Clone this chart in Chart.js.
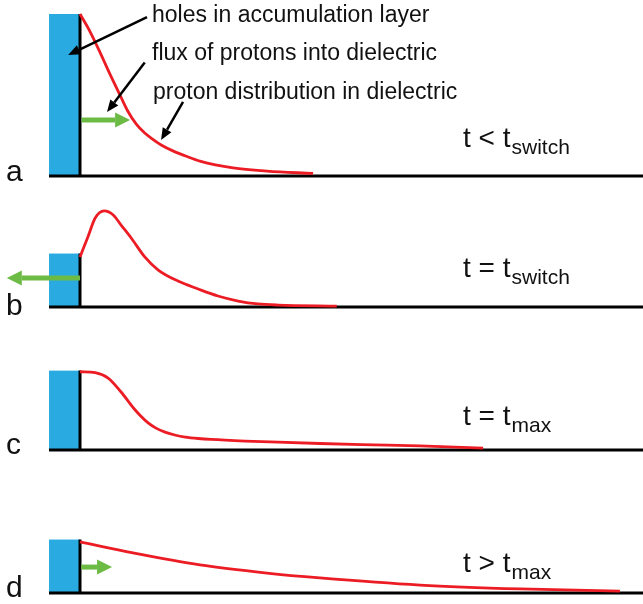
<!DOCTYPE html>
<html>
<head>
<meta charset="utf-8">
<script src="https://cdn.jsdelivr.net/npm/chart.js@4"></script>
<style>
  body { margin: 0; background: #fff; }
  #wrap { position: relative; width: 643px; height: 604px; }
  #wrap canvas { position: absolute; left: 0; }
</style>
</head>
<body>
<div id="wrap">
  <canvas id="pa" width="643" height="190" style="top:0px"></canvas>
  <canvas id="pb" width="643" height="130" style="top:190px"></canvas>
  <canvas id="pc" width="643" height="145" style="top:320px"></canvas>
  <canvas id="pd" width="643" height="139" style="top:465px"></canvas>
</div>
<script>
// depth into dielectric (a.u., 0 = interface) and proton concentration (a.u.)
const depthA = [0, 1.8, 3.6, 5.3, 7.1, 8.5, 10, 11.5, 13, 14.5, 16.5, 19, 21.3, 27.2, 33.2, 41.4];
const protonA = [1.0, 0.89, 0.76, 0.63, 0.50, 0.40, 0.32, 0.265, 0.225, 0.19, 0.155, 0.12, 0.092, 0.05, 0.03, 0.016];

const depthB = [0, 1.4, 2.7, 4.3, 5.9, 7.3, 9.1, 11.5, 13.9, 17.4, 21.0, 24.5, 28.1, 31.6, 35.2, 45.6];
const protonB = [0.309, 0.432, 0.549, 0.593, 0.568, 0.506, 0.426, 0.309, 0.228, 0.160, 0.111, 0.068, 0.037, 0.019, 0.012, 0.006];

const depthC = [0, 2.7, 5.0, 7.3, 9.8, 12.1, 13.5, 15.1, 17, 18.7, 21, 23.3, 29.3, 35.2, 42.6, 50, 60.4, 71.6];
const protonC = [0.483, 0.477, 0.444, 0.358, 0.247, 0.167, 0.135, 0.110, 0.091, 0.080, 0.071, 0.065, 0.055, 0.048, 0.040, 0.033, 0.025, 0.012];

const depthD = [0, 9.4, 21.3, 33.2, 42.6, 60.4, 78.2, 95.9];
const protonD = [0.315, 0.247, 0.173, 0.123, 0.093, 0.049, 0.025, 0.012];

// holes in the accumulation layer (height of blue block)
const holeLevels = [1.0, 0.33, 0.49, 0.33];
const layerThickness = 5.5;

// flux of protons: [fromX, toX, level] per panel, null = none
const fluxArrows = [[0.3, 8.9, 0.346], [0, -13, 0.179], null, [0.2, 5.7, 0.16]];

const panelLetters = ['a', 'b', 'c', 'd'];
const timeLabels = [['t < t', 'switch'], ['t = t', 'switch'], ['t = t', 'max'], ['t > t', 'max']];

const RED = '#ec1c24';
const BLUE = '#29abe2';
const GREEN = '#6cbb45';
const PX_PER_UNIT = 162;

function arrow(ctx, x1, y1, x2, y2, color, lw, headLen, headW) {
    const ang = Math.atan2(y2 - y1, x2 - x1);
    const bx = x2 - headLen * Math.cos(ang);
    const by = y2 - headLen * Math.sin(ang);
    ctx.save();
    ctx.strokeStyle = color;
    ctx.fillStyle = color;
    ctx.lineWidth = lw;
    ctx.beginPath();
    ctx.moveTo(x1, y1);
    ctx.lineTo(bx, by);
    ctx.stroke();
    ctx.beginPath();
    ctx.moveTo(x2, y2);
    ctx.lineTo(bx + headW / 2 * Math.sin(ang), by - headW / 2 * Math.cos(ang));
    ctx.lineTo(bx - headW / 2 * Math.sin(ang), by + headW / 2 * Math.cos(ang));
    ctx.closePath();
    ctx.fill();
    ctx.restore();
}

// 背景の層と注釈を描くプラグイン
const schematic = {
    id: 'schematic',
    beforeDatasetsDraw(chart, args, opts) {
        const ctx = chart.ctx;
        const xs = chart.scales.x, ys = chart.scales.y;
        const i = opts.panel;
        const x0 = xs.getPixelForValue(-layerThickness);
        const xi = xs.getPixelForValue(0);
        const yb = ys.getPixelForValue(0);
        const yh = ys.getPixelForValue(holeLevels[i]);
        ctx.save();
        ctx.fillStyle = BLUE;
        ctx.fillRect(x0, yh, xi - x0, yb - yh);
        ctx.strokeStyle = '#000';
        ctx.lineWidth = 3;
        ctx.beginPath();
        ctx.moveTo(xi, yh);
        ctx.lineTo(xi, yb);
        ctx.moveTo(x0, yb);
        ctx.lineTo(xs.getPixelForValue(100), yb);
        ctx.stroke();
        ctx.restore();
    },
    afterDatasetsDraw(chart, args, opts) {
        const ctx = chart.ctx;
        const xs = chart.scales.x, ys = chart.scales.y;
        const i = opts.panel;
        const f = fluxArrows[i];
        if (f) {
            arrow(ctx, xs.getPixelForValue(f[0]), ys.getPixelForValue(f[2]),
                xs.getPixelForValue(f[1]), ys.getPixelForValue(f[2]), GREEN, 5, 15, 15);
        }
        ctx.save();
        ctx.fillStyle = '#111';
        ctx.textBaseline = 'alphabetic';
        ctx.font = '30px "Liberation Sans", Arial, sans-serif';
        ctx.fillText(panelLetters[i], 6, opts.letterY);
        ctx.font = '28px "Liberation Sans", Arial, sans-serif';
        const tl = timeLabels[i];
        ctx.fillText(tl[0], 463, opts.labelY);
        const w = ctx.measureText(tl[0]).width;
        ctx.font = '21px "Liberation Sans", Arial, sans-serif';
        ctx.fillText(tl[1], 463 + w + 1, opts.labelY + 7);
        if (i === 0) {
            ctx.font = '23px "Liberation Sans", Arial, sans-serif';
            ctx.fillText('holes in accumulation layer', 152, 22);
            ctx.fillText('flux of protons into dielectric', 152, 60);
            ctx.fillText('proton distribution in dielectric', 153, 99);
            const P = (x, y) => [xs.getPixelForValue(x), ys.getPixelForValue(y)];
            const callouts = [[11.9, 0.98, -2.1, 0.747], [11.5, 0.70, 4.8, 0.395], [18.3, 0.457, 14.4, 0.222]];
            callouts.forEach(c => {
                const a = P(c[0], c[1]), b = P(c[2], c[3]);
                arrow(ctx, a[0], a[1], b[0], b[1], '#000', 2.5, 12, 10);
            });
        }
        ctx.restore();
    }
};

function drawPanel(id, panel, depth, proton, yMax, padBottom, labelY, letterY) {
    const canvas = document.getElementById(id);
    const padTop = canvas.height - padBottom - yMax * PX_PER_UNIT;
    new Chart(canvas.getContext('2d'), {
        type: 'line',
        data: {
            datasets: [{
                data: depth.map((d, k) => ({ x: d, y: proton[k] })),
                borderColor: RED,
                borderWidth: 2.8,
                pointRadius: 0,
                cubicInterpolationMode: 'monotone',
                fill: false,
                clip: false
            }]
        },
        options: {
            responsive: false,
            animation: false,
            events: [],
            layout: { padding: { left: 80, right: 0, top: padTop, bottom: padBottom } },
            scales: {
                x: { type: 'linear', min: 0, max: 100, display: false },
                y: { min: 0, max: yMax, display: false }
            },
            plugins: {
                legend: { display: false },
                tooltip: { enabled: false },
                schematic: { panel: panel, labelY: labelY, letterY: letterY }
            }
        },
        plugins: [schematic]
    });
}

drawPanel('pa', 0, depthA, protonA, 1.0, 14, 147, 181);
drawPanel('pb', 1, depthB, protonB, 0.65, 13, 87, 125);
drawPanel('pc', 2, depthC, protonC, 0.65, 15, 105, 134);
drawPanel('pd', 3, depthD, protonD, 0.65, 11, 107, 132);
</script>
</body>
</html>
